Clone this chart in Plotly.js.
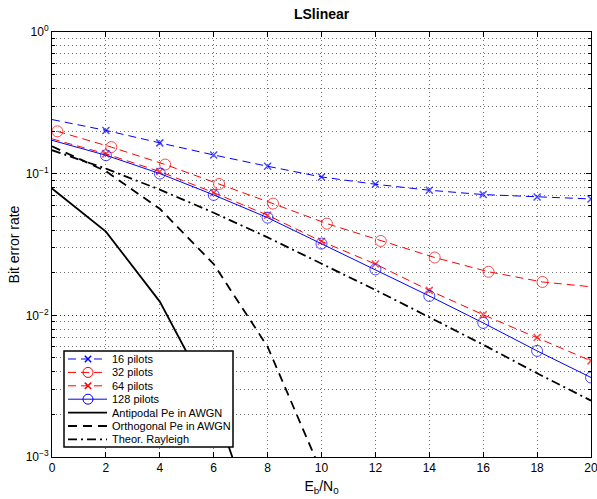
<!DOCTYPE html>
<html>
<head>
<meta charset="utf-8">
<script src="https://cdn.plot.ly/plotly-3.0.1.min.js"></script>
<style>html,body{margin:0;padding:0;background:#fff;}#chart{width:597px;height:499px;}</style>
</head>
<body>
<div id="chart"></div>
<script>
// Data
const ebno = [0, 2, 4, 6, 8, 10, 12, 14, 16, 18, 20];
const ebno32 = [0.2, 2.2, 4.2, 6.2, 8.2, 10.2, 12.2, 14.2, 16.2, 18.2, 20];
const pilots16 = [0.241, 0.202, 0.165, 0.1355, 0.1128, 0.0948, 0.0842, 0.0764, 0.0712, 0.0685, 0.0663];
const pilots32 = [0.199, 0.154, 0.116, 0.0846, 0.0615, 0.0444, 0.0335, 0.0256, 0.0203, 0.0172, 0.0159];
const pilots64 = [0.176, 0.138, 0.1035, 0.0735, 0.0509, 0.0333, 0.0230, 0.0150, 0.0101, 0.00697, 0.00477];
const pilots128 = [0.172, 0.1349, 0.1002, 0.0708, 0.0489, 0.0321, 0.0211, 0.0137, 0.00884, 0.00561, 0.00364];
const antipodal = [0.0786, 0.039, 0.0125, 0.0024, 0.00019, 0.0000039, 0.000000009];
const orthogonal = [0.156, 0.104, 0.0565, 0.0230, 0.0060, 0.00078, 0.000034];
const rayleigh = [0.1464, 0.1085, 0.0771, 0.0530, 0.0355, 0.0233, 0.0151, 0.0097, 0.0062, 0.0039, 0.0025];
const seriesNames = ['16 pilots', '32 pilots', '64 pilots', '128 pilots', 'Antipodal Pe in AWGN', 'Orthogonal Pe in AWGN', 'Theor. Rayleigh'];
const yTickVals = [0.001, 0.01, 0.1, 1];
const yTickText = ['10<sup>\u22123</sup>', '10<sup>\u22122</sup>', '10<sup>\u22121</sup>', '10<sup>0</sup>'];
const xTickVals = [0, 2, 4, 6, 8, 10, 12, 14, 16, 18, 20];

const BLUE = 'rgb(0,0,255)', RED = 'rgb(255,0,0)', BLACK = 'rgb(0,0,0)';
const DASH = '8px,5px', KDASH = '9px,6px', KDASHDOT = '9px,4px,2px,4px';
const sizesSkipFirst = (s) => ebno.map((_, i) => i === 0 ? 0 : s);
const sizesSkipLast = (s) => ebno.map((_, i) => i === ebno.length - 1 ? 0 : s);

const traces = [
  {x: ebno, y: pilots16, name: seriesNames[0], mode: 'lines+markers',
   line: {color: BLUE, width: 1, dash: DASH},
   marker: {symbol: 'x-thin-open', size: sizesSkipFirst(7), color: BLUE, line: {color: BLUE, width: 1.5}}},
  {x: ebno32, y: pilots32, name: seriesNames[1], mode: 'lines+markers',
   line: {color: RED, width: 1, dash: DASH},
   marker: {symbol: 'circle-open', size: sizesSkipLast(11), color: RED, line: {color: RED, width: 1}}},
  {x: ebno, y: pilots64, name: seriesNames[2], mode: 'lines+markers',
   line: {color: RED, width: 1, dash: DASH},
   marker: {symbol: 'x-thin-open', size: sizesSkipFirst(7), color: RED, line: {color: RED, width: 1.5}}},
  {x: ebno, y: pilots128, name: seriesNames[3], mode: 'lines+markers',
   line: {color: BLUE, width: 1},
   marker: {symbol: 'circle-open', size: sizesSkipFirst(11), color: BLUE, line: {color: BLUE, width: 1}}},
  {x: ebno.slice(0, antipodal.length), y: antipodal, name: seriesNames[4], mode: 'lines',
   line: {color: BLACK, width: 1.8}},
  {x: ebno.slice(0, orthogonal.length), y: orthogonal, name: seriesNames[5], mode: 'lines',
   line: {color: BLACK, width: 1.8, dash: KDASH}},
  {x: ebno, y: rayleigh, name: seriesNames[6], mode: 'lines',
   line: {color: BLACK, width: 1.8, dash: KDASHDOT}}
];

// ---- compact MATLAB-style legend box (built from the traces' styles) ----
const W = 597, H = 499, ML = 52, MR = 6, MT = 32, MB = 42;
const PW = W - ML - MR, PH = H - MT - MB;
const px = (v) => (v - ML) / PW;
const py = (v) => (H - MB - v) / PH;
const legendMarkers = ['x', 'o', 'x', 'o', null, null, null];
const shapes = [];
const annotations = [];
shapes.push({type: 'rect', xref: 'paper', yref: 'paper', x0: px(64), x1: px(233), y0: py(447), y1: py(351),
  line: {color: '#000', width: 1.5}, fillcolor: '#fff', layer: 'above'});
traces.forEach((t, i) => {
  const cy = 359 + i * 13.4;
  shapes.push({type: 'line', xref: 'paper', yref: 'paper', x0: px(68), x1: px(107), y0: py(cy), y1: py(cy),
    line: {color: t.line.color, width: t.line.width, dash: t.line.dash || 'solid'}, layer: 'above'});
  const m = legendMarkers[i];
  const cx = 88;
  if (m === 'o') {
    shapes.push({type: 'circle', xref: 'paper', yref: 'paper', x0: px(cx - 5), x1: px(cx + 5), y0: py(cy + 5), y1: py(cy - 5),
      line: {color: t.line.color, width: 1}, fillcolor: 'rgba(0,0,0,0)', layer: 'above'});
  } else if (m === 'x') {
    const r = 3.2;
    shapes.push({type: 'path', xref: 'paper', yref: 'paper',
      path: `M${px(cx - r)},${py(cy - r)} L${px(cx + r)},${py(cy + r)} M${px(cx - r)},${py(cy + r)} L${px(cx + r)},${py(cy - r)}`,
      line: {color: t.line.color, width: 1.5}, layer: 'above'});
  }
  annotations.push({xref: 'paper', yref: 'paper', x: px(110), y: py(cy), xanchor: 'left', yanchor: 'middle',
    text: t.name, showarrow: false, font: {size: 11, color: '#000'}});
});
// path shapes in paper coords need xsizemode defaults; convert path to use paper refs
shapes.forEach(s => { if (s.type === 'path') { s.xref = 'paper'; s.yref = 'paper'; } });

const gridDash = '1px,3px';
const gridColor = 'rgba(0,0,0,0.55)';
const FONT = 'Liberation Sans, Arial, Helvetica, sans-serif';

const layout = {
  width: W, height: H,
  margin: {l: ML, r: MR, t: MT, b: MB},
  paper_bgcolor: '#fff', plot_bgcolor: '#fff',
  font: {family: FONT, size: 12, color: '#000'},
  title: {text: '<b>LSlinear</b>', font: {family: FONT, size: 14, color: '#000'},
          x: 0.5387, xanchor: 'center', y: 0.972, yanchor: 'middle'},
  showlegend: false,
  xaxis: {
    range: [0, 20], tickvals: xTickVals, ticks: 'inside', ticklen: 5, tickcolor: '#000',
    showline: true, linecolor: '#000', linewidth: 1, mirror: 'ticks',
    showgrid: true, gridcolor: gridColor, griddash: gridDash, gridwidth: 1,
    zeroline: false, tickfont: {size: 12}, ticklabeloverflow: 'allow',
    title: {text: 'E<sub>b</sub>/N<sub>0</sub>', font: {size: 14}, standoff: 6}
  },
  yaxis: {
    type: 'log', range: [-3, 0], tickvals: yTickVals, ticktext: yTickText,
    ticks: 'inside', ticklen: 5, tickcolor: '#000',
    showline: true, linecolor: '#000', linewidth: 1, mirror: 'ticks',
    showgrid: true, gridcolor: gridColor, griddash: gridDash, gridwidth: 1,
    zeroline: false, tickfont: {size: 12}, ticklabeloverflow: 'allow',
    minor: {dtick: 'D1', ticks: 'inside', ticklen: 3, tickcolor: '#000',
            showgrid: true, gridcolor: gridColor, griddash: gridDash, gridwidth: 1},
    title: {text: 'Bit error rate', font: {size: 14}, standoff: 2}
  },
  shapes: shapes,
  annotations: annotations
};

Plotly.newPlot('chart', traces, layout, {displayModeBar: false, staticPlot: true});
</script>
</body>
</html>
